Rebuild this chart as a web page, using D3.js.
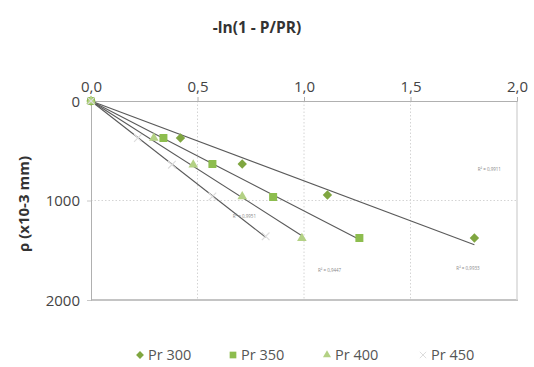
<!DOCTYPE html>
<html>
<head>
<meta charset="utf-8">
<script src="https://cdn.jsdelivr.net/npm/d3@7"></script>
<style>
  body { margin: 0; background: #fff; }
  svg text { font-family: "Open Sans", "DejaVu Sans", sans-serif; }
</style>
</head>
<body>
<svg id="chart" width="534" height="367"></svg>
<script>
// values (x = -ln(1 - P/PR), y = rho in 10^-3 mm)
const seriesNames = ['Pr 300', 'Pr 350', 'Pr 400', 'Pr 450'];
const pr300 = [[0, 0], [0.42, 372], [0.71, 633], [1.11, 945], [1.80, 1377]];
const pr350 = [[0, 0], [0.34, 372], [0.57, 633], [0.855, 965], [1.26, 1377]];
const pr400 = [[0, 0], [0.295, 372], [0.48, 640], [0.71, 960], [0.99, 1380]];
const pr450 = [[0, 0], [0.22, 372], [0.38, 640], [0.57, 960], [0.82, 1360]];
const xTicks = [0, 0.5, 1.0, 1.5, 2.0];
const yTicks = [0, 1000, 2000];
const r2Labels = ['R² = 0,9911', 'R² = 0,9933', 'R² = 0,9447', 'R² = 0,9951'];
// where each R² box sits, in data units
const r2Pos = [[1.87, 700], [1.77, 1700], [1.12, 1720], [0.72, 1180]];

const plotL = 91, plotR = 517, plotT = 101, plotB = 300;
const svg = d3.select('#chart');

const x = d3.scaleLinear().domain([0, 2]).range([plotL, plotR]);
const y = d3.scaleLinear().domain([0, 2000]).range([plotT, plotB]);

// title
svg.append('text')
  .attr('x', 257).attr('y', 33)
  .attr('text-anchor', 'middle')
  .attr('font-size', 15.5).attr('font-weight', 'bold')
  .attr('fill', '#333')
  .text('-ln(1 - P/PR)');

// grid
svg.append('g').selectAll('line')
  .data(xTicks.slice(1, -1))
  .join('line')
  .attr('x1', d => x(d)).attr('x2', d => x(d))
  .attr('y1', plotT).attr('y2', plotB)
  .attr('stroke', '#d4d4d4').attr('stroke-dasharray', '1.5,2');

svg.append('g').selectAll('line')
  .data(yTicks.slice(1, -1))
  .join('line')
  .attr('x1', plotL).attr('x2', plotR)
  .attr('y1', d => y(d)).attr('y2', d => y(d))
  .attr('stroke', '#d4d4d4').attr('stroke-dasharray', '1.5,2');

// plot frame: bottom + right
svg.append('line')
  .attr('x1', plotL).attr('x2', plotR + 1).attr('y1', plotB).attr('y2', plotB)
  .attr('stroke', '#c4c4c4').attr('stroke-width', 2);
svg.append('line')
  .attr('x1', plotR).attr('x2', plotR).attr('y1', plotT).attr('y2', plotB)
  .attr('stroke', '#d8d8d8').attr('stroke-width', 1.5);

// top axis
const xAxis = d3.axisTop(x).tickValues(xTicks).tickSize(4)
  .tickFormat(d => d3.format('.1f')(d).replace('.', ','));
const gx = svg.append('g').attr('transform', `translate(0,${plotT})`).call(xAxis);
gx.select('.domain').attr('stroke', '#b0b0b0');
gx.selectAll('.tick line').attr('stroke', '#b0b0b0');
gx.selectAll('.tick text')
  .attr('font-size', 15).attr('fill', '#444').attr('y', -9);

// left axis
const yAxis = d3.axisLeft(y).tickValues(yTicks).tickSize(4).tickFormat(d3.format('d'));
const gy = svg.append('g').attr('transform', `translate(${plotL},0)`).call(yAxis);
gy.select('.domain').attr('stroke', '#b0b0b0');
gy.selectAll('.tick line').attr('stroke', '#c8c8c8');
gy.selectAll('.tick text')
  .attr('font-size', 15).attr('fill', '#444').attr('x', -11).attr('dy', '0.35em');

svg.append('text')
  .attr('transform', 'translate(29,204) rotate(-90)')
  .attr('text-anchor', 'middle')
  .attr('font-size', 15).attr('font-weight', 'bold')
  .attr('fill', '#333')
  .text('ρ (x10-3 mm)');

// trend lines through origin (least squares, zero intercept)
const allSeries = [pr300, pr350, pr400, pr450];
allSeries.forEach(pts => {
  const sxy = d3.sum(pts, p => p[0] * p[1]);
  const sxx = d3.sum(pts, p => p[0] * p[0]);
  const k = sxy / sxx;
  const xe = d3.max(pts, p => p[0]);
  svg.append('line')
    .attr('x1', x(0)).attr('y1', y(0))
    .attr('x2', x(xe)).attr('y2', y(k * xe))
    .attr('stroke', '#5a5a5a').attr('stroke-width', 1.1);
});

// markers (diamond = square turned 45deg)
const styles = [
  { sym: d3.symbolSquare, size: 44, rot: 45, fill: '#7fa640' },
  { sym: d3.symbolSquare, size: 64, rot: 0, fill: '#8dbd4e' },
  { sym: d3.symbolTriangle, size: 40, rot: 0, fill: '#b3d184' },
  { sym: d3.symbolX, size: 40, rot: 0, fill: 'none', stroke: '#dddddd' }
];
allSeries.forEach((pts, i) => {
  const st = styles[i];
  svg.append('g').selectAll('path')
    .data(pts)
    .join('path')
    .attr('transform', d => `translate(${x(d[0])},${y(d[1])}) rotate(${st.rot})`)
    .attr('d', d3.symbol(st.sym, st.size))
    .attr('fill', st.fill)
    .attr('stroke', st.stroke || 'none')
    .attr('stroke-width', 1.2);
});

// R² labels (tiny, as in the source)
svg.append('g').selectAll('text')
  .data(r2Labels)
  .join('text')
  .attr('x', (d, i) => x(r2Pos[i][0]))
  .attr('y', (d, i) => y(r2Pos[i][1]))
  .attr('text-anchor', 'middle')
  .attr('font-size', 4.5).attr('fill', '#888')
  .text(d => d);

// legend
const legX = [140, 233, 327, 423];
const leg = svg.append('g').attr('transform', 'translate(0,357)');
seriesNames.forEach((name, i) => {
  const st = styles[i];
  leg.append('path')
    .attr('transform', `translate(${legX[i]},-2) rotate(${st.rot})`)
    .attr('d', d3.symbol(st.sym, st.size * 0.7))
    .attr('fill', st.fill)
    .attr('stroke', st.stroke || 'none');
  leg.append('text')
    .attr('x', legX[i] + 8).attr('y', 3)
    .attr('font-size', 14.5).attr('fill', '#555')
    .text(name);
});
</script>
</body>
</html>
